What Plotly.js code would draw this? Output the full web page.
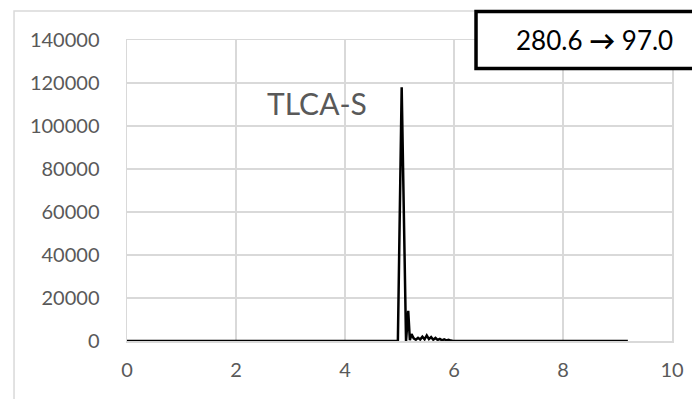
<!DOCTYPE html>
<html>
<head>
<meta charset="utf-8">
<script src="https://cdn.plot.ly/plotly-3.0.1.min.js"></script>
<style>
html,body{margin:0;padding:0;background:#fff;}
#chart{width:692px;height:399px;}
</style>
</head>
<body>
<div id="chart"></div>
<script>
// Data
var timeX = [0, 4.97, 5.04, 5.12, 5.16, 5.19, 5.22, 5.26, 5.30, 5.34, 5.38, 5.42, 5.46, 5.50, 5.54, 5.58, 5.62, 5.66, 5.70, 5.74, 5.78, 5.82, 5.86, 5.90, 5.94, 5.98, 9.19];
var signalY = [0, 0, 118000, 0, 14000, 400, 3200, 1200, 600, 1500, 700, 2000, 800, 2600, 900, 1800, 600, 1400, 500, 1000, 300, 800, 300, 600, 200, 0, 0];
var chartLabel = "TLCA-S";
var boxLabel = "280.6 <b>\u2192</b> 97.0";
var xTicks = [0, 2, 4, 6, 8, 10];
var yTicks = [0, 20000, 40000, 60000, 80000, 100000, 120000, 140000];

var trace = {
  x: timeX, y: signalY, type: 'scatter', mode: 'lines',
  line: {color: '#000000', width: 2.5}, hoverinfo: 'skip'
};

var grid = '#d9d9d9';
var layout = {
  width: 692, height: 399,
  margin: {l: 127, r: 20, t: 40, b: 58},
  paper_bgcolor: '#ffffff', plot_bgcolor: '#ffffff',
  showlegend: false,
  font: {family: 'Lato, "Open Sans", sans-serif', color: '#595959', size: 20},
  xaxis: {
    range: [0, 10], tickvals: xTicks, ticktext: xTicks.map(String),
    showgrid: true, gridcolor: grid, gridwidth: 1.5,
    zeroline: false, showline: true, linecolor: grid, linewidth: 1.5, mirror: true,
    ticks: '', ticklabelstandoff: 10,
    tickfont: {size: 20, color: '#595959'}
  },
  yaxis: {
    range: [0, 140000], tickvals: yTicks, ticktext: yTicks.map(String),
    showgrid: true, gridcolor: grid, gridwidth: 1.5,
    zeroline: false, showline: true, linecolor: grid, linewidth: 1.5, mirror: true,
    ticks: '', ticklabelstandoff: 22,
    tickfont: {size: 20, color: '#595959'}
  },
  shapes: [
    {type: 'rect', xref: 'paper', yref: 'paper',
     x0: -0.2073, x1: 1.045, y0: -0.22, y1: 1.0963,
     line: {color: grid, width: 1.5}, layer: 'below'},
    {type: 'rect', xref: 'paper', yref: 'paper',
     x0: 0.6404, x1: 1.08, y0: 0.9053, y1: 1.0947,
     line: {color: '#000000', width: 3.5}, fillcolor: '#ffffff', layer: 'above'}
  ],
  annotations: [
    {text: chartLabel, x: 3.495, y: 110500, xref: 'x', yref: 'y',
     showarrow: false, xanchor: 'center', yanchor: 'middle',
     font: {size: 30, color: '#595959', family: 'Lato, sans-serif'}},
    {text: boxLabel, x: 0.8587, y: 1.0, xref: 'paper', yref: 'paper',
     showarrow: false, xanchor: 'center', yanchor: 'middle',
     font: {size: 26, color: '#000000', family: 'Lato, sans-serif'}}
  ]
};

Plotly.newPlot('chart', [trace], layout, {displayModeBar: false, staticPlot: true});
</script>
</body>
</html>
